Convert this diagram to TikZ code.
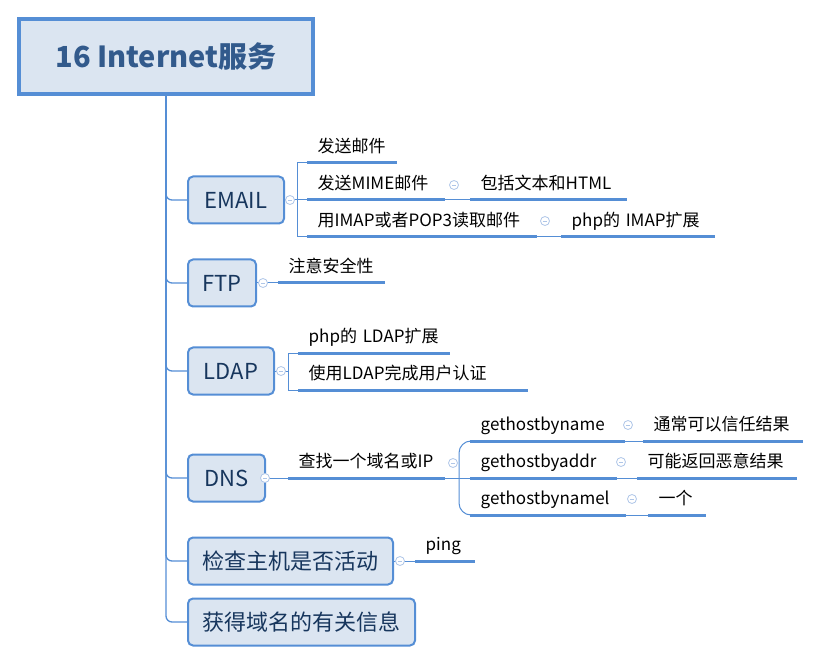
\documentclass[tikz,border=0pt]{standalone}
\usepackage{fontspec}
\setmainfont{Noto Sans CJK SC}
\definecolor{lineblue}{RGB}{85,142,213}
\definecolor{boxfill}{RGB}{219,229,241}
\definecolor{togc}{RGB}{175,198,232}
\definecolor{maintext}{RGB}{23,54,93}
\definecolor{roottext}{RGB}{50,90,140}
\tikzset{
  rootbox/.style={draw=lineblue, line width=4pt, fill=boxfill, minimum width=294, minimum height=75, text=roottext, font=\fontsize{29}{32}\selectfont\bfseries},
  mainbox/.style={draw=lineblue, line width=2pt, fill=boxfill, rounded corners=5pt, minimum height=47, anchor=west, text=maintext, font=\fontsize{22}{26}\selectfont},
  leaf/.style={anchor=south west, inner xsep=10.5pt, inner ysep=6pt, text depth=4pt, text height=13pt, align=left, font=\fontsize{17}{19}\selectfont},
  uline/.style={draw=lineblue, line width=3pt},
  tog/.style={circle, draw=togc, fill=white, line width=0.8pt, minimum size=9pt, inner sep=0pt, path picture={\draw[togc, line width=0.8pt] ([xshift=-2.2pt]path picture bounding box.center) -- ([xshift=2.2pt]path picture bounding box.center);}},
  conn/.style={draw=lineblue, line width=1pt},
  trunk/.style={draw=lineblue, line width=1.3pt, rounded corners=6pt},
}
\begin{document}
\begin{tikzpicture}[x=1pt,y=-1pt]
\useasboundingbox (0,0) rectangle (820,663);
% root
\node[rootbox] (root) at (166,56.5) {16 Internet服务};
% main nodes
\node[mainbox, minimum width=96] (email) at (187,200) {EMAIL};
\node[mainbox, minimum width=68] (ftp) at (187,283) {FTP};
\node[mainbox, minimum width=86] (ldap) at (187,371) {LDAP};
\node[mainbox, minimum width=77] (dns) at (187,478) {DNS};
\node[mainbox, minimum width=205] (chk) at (187,561) {检查主机是否活动};
\node[mainbox, minimum width=227] (info) at (187,622) {获得域名的有关信息};
% trunk
\foreach \n in {email,ftp,ldap,dns,chk,info}{
  \draw[trunk] (root.south) |- (\n.west);
}
% leaves
\node[leaf, text width=69] (m1) at (307,163) {发送邮件};
\node[leaf, text width=117] (m2) at (307,200) {发送MIME邮件};
\node[leaf, text width=209] (m3) at (307,237) {用IMAP或者POP3读取邮件};
\node[leaf, text width=136] (n2) at (470,200) {包括文本和HTML};
\node[leaf, text width=133] (n3) at (561,237) {php的 IMAP扩展};
\node[leaf, text width=86] (f1) at (278,283) {注意安全性};
\node[leaf, text width=131] (l1) at (298,353) {php的 LDAP扩展};
\node[leaf, text width=209] (l2) at (298,390) {使用LDAP完成用户认证};
\node[leaf, text width=136] (d0) at (288,478) {查找一个域名或IP};
\node[leaf, text width=134] (g1) at (470,441) {gethostbyname};
\node[leaf, text width=126] (g2) at (470,478) {gethostbyaddr};
\node[leaf, text width=135] (g3) at (470,515) {gethostbynamel};
\node[leaf, text width=139] (h1) at (643,441) {通常可以信任结果};
\node[leaf, text width=139] (h2) at (637,478) {可能返回恶意结果};
\node[leaf, text width=37] (h3) at (648,515) {一个};
\node[leaf, text width=39] (p1) at (415,561) {ping};
% connectors
\coordinate (ebr) at (297,200);
\coordinate (lbr) at (288,371);
\coordinate (dbr) at (459,478);
\draw[conn] (email.east) -- (ebr);
\draw[conn] (ebr) |- (m1.south west);
\draw[conn] (ebr) -- (m2.south west);
\draw[conn] (ebr) |- (m3.south west);
\draw[conn] (m2.south east) -- (n2.south west);
\draw[conn] (m3.south east) -- (n3.south west);
\draw[conn] (ftp.east) -- (f1.south west);
\draw[conn] (ldap.east) -- (lbr);
\draw[conn] (lbr) |- (l1.south west);
\draw[conn] (lbr) |- (l2.south west);
\draw[conn] (dns.east) -- (d0.south west);
\draw[conn] (d0.south east) -- (dbr);
\draw[conn, rounded corners=12pt] (dbr) |- (g1.south west);
\draw[conn] (dbr) -- (g2.south west);
\draw[conn, rounded corners=12pt] (dbr) |- (g3.south west);
\draw[conn] (g1.south east) -- (h1.south west);
\draw[conn] (g2.south east) -- (h2.south west);
\draw[conn] (g3.south east) -- (h3.south west);
\draw[conn] (chk.east) -- (p1.south west);
% underlines
\foreach \n in {m1,m2,m3,n2,n3,f1,l1,l2,d0,g1,g2,g3,h1,h2,h3,p1}{
  \draw[uline] (\n.south west) -- (\n.south east);
}
% toggles
\node[tog] (temail) at (290,200) {};
\node[tog] (tftp) at (263,283) {};
\node[tog] (tldap) at (281,371) {};
\node[tog] (tdns) at (265,478) {};
\node[tog] (tchk) at (400,561) {};
\node[tog] (tm2) at (454,185) {};
\node[tog] (tm3) at (545,221) {};
\node[tog] (td0) at (453,463) {};
\node[tog] (tg1) at (628,425) {};
\node[tog] (tg2) at (621,462) {};
\node[tog] (tg3) at (632,499) {};
\end{tikzpicture}
\end{document}
